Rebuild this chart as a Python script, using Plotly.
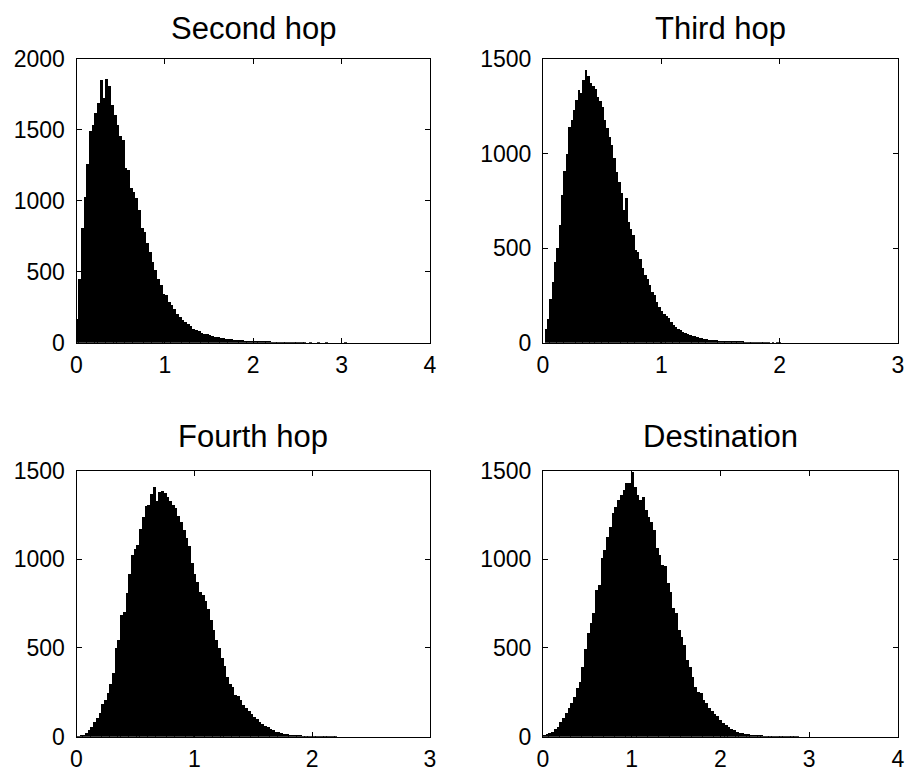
import plotly.graph_objects as go

# ---------------- data (bar heights) ----------------
second_width = 0.0307
second_counts = [
    170, 452, 810, 1030, 1260, 1494, 1536, 1618, 1690, 1854,
    1725, 1861, 1807, 1677, 1607, 1536, 1454, 1430, 1230, 1218,
    1088, 1065, 1018, 935, 806, 782, 700, 641, 570, 511,
    452, 405, 346, 335, 287, 264, 240, 205, 181, 158,
    146, 134, 118, 99, 87, 80, 71, 64, 61, 52,
    47, 40, 38, 33, 30, 28, 26, 24, 22, 20,
    18, 16, 14, 13, 12, 10, 9, 8, 7, 6,
    5, 5, 4, 4, 3, 3, 2, 2, 2, 1,
    1, 1, 1, 1, 1, 0, 1, 0, 0, 1,
    0, 0, 1, 0, 0, 0, 0, 0, 0, 1,
]
second_start = 0.0  # centre of first bin

third_width = 0.02
third_counts = [
    71, 124, 230, 320, 425, 500, 620, 780, 910, 1000,
    1140, 1180, 1230, 1285, 1335, 1320, 1390, 1443, 1410, 1375,
    1355, 1340, 1300, 1280, 1245, 1180, 1135, 1090, 1045, 975,
    900, 850, 790, 700, 765, 640, 600, 570, 490, 480,
    440, 395, 360, 335, 305, 270, 250, 215, 190, 165,
    152, 140, 128, 110, 95, 85, 75, 66, 58, 50,
    44, 40, 37, 34, 30, 26, 23, 20, 18, 16,
    15, 13, 12, 11, 10, 9, 8, 8, 7, 6,
    5, 5, 4, 4, 3, 3, 3, 2, 2, 2,
    1, 2, 1, 1, 1, 0, 1, 0, 1, 1,
]
third_start = 0.024

fourth_width = 0.023
fourth_counts = [
    8, 11, 15, 26, 41, 60, 83, 107, 139, 188,
    210, 251, 300, 360, 500, 550, 690, 705, 810, 920,
    1025, 1060, 1085, 1175, 1240, 1300, 1310, 1370, 1408, 1330,
    1380, 1385, 1375, 1355, 1330, 1310, 1290, 1245, 1215, 1170,
    1120, 1075, 980, 920, 875, 820, 800, 765, 725, 660,
    605, 550, 500, 445, 400, 340, 300, 285, 240, 230,
    210, 180, 165, 145, 130, 115, 105, 88, 75, 64,
    56, 49, 41, 32, 28, 23, 19, 17, 15, 13,
    12, 11, 10, 9, 8, 7, 6, 5, 5, 4,
    4, 3, 3, 2, 2, 2, 1, 1, 1, 1,
]
fourth_start = 0.0115

dest_width = 0.031
dest_counts = [
    13, 17, 22, 32, 45, 60, 88, 107, 135, 163,
    195, 229, 276, 313, 398, 495, 586, 642, 698, 829,
    858, 1008, 1055, 1130, 1186, 1261, 1299, 1336, 1365, 1393,
    1430, 1434, 1496, 1411, 1365, 1336, 1351, 1280, 1243, 1214,
    1167, 1064, 1027, 970, 965, 867, 820, 726, 698, 604,
    567, 520, 435, 398, 342, 285, 257, 248, 210, 191,
    163, 145, 131, 120, 98, 79, 69, 60, 47, 41,
    32, 26, 22, 19, 17, 15, 13, 12, 11, 10,
    9, 8, 7, 6, 6, 5, 4, 4, 3, 3,
    2, 2, 2, 1, 1, 1, 1, 0, 1, 1,
]
dest_start = 0.0155

titles = ["Second hop", "Third hop", "Fourth hop", "Destination"]
x_maxes = [4, 3, 3, 4]
y_maxes = [2000, 1500, 1500, 1500]
x_ticks = [[0, 1, 2, 3, 4], [0, 1, 2, 3], [0, 1, 2, 3], [0, 1, 2, 3, 4]]
y_ticks = [[0, 500, 1000, 1500, 2000], [0, 500, 1000, 1500],
           [0, 500, 1000, 1500], [0, 500, 1000, 1500]]

panels = [
    (second_counts, second_start, second_width),
    (third_counts, third_start, third_width),
    (fourth_counts, fourth_start, fourth_width),
    (dest_counts, dest_start, dest_width),
]

# ---------------- layout geometry ----------------
W, H = 909, 778
col_px = [(76.5, 430.0), (543.0, 898.0)]
row_px = [(59.0, 342.7), (470.5, 736.7)]
title_centre_px = [28.0, 437.0]

FONT = "Liberation Sans, Arial, Helvetica, sans-serif"

fig = go.Figure()
layout = dict(
    template="none",
    width=W, height=H, autosize=False,
    margin=dict(l=0, r=0, t=0, b=0, pad=0, autoexpand=False),
    paper_bgcolor="white", plot_bgcolor="white",
    showlegend=False, bargap=0,
    font=dict(family=FONT, size=23, color="black"),
    annotations=[],
)

for i, (counts, start, width) in enumerate(panels):
    r, c = divmod(i, 2)
    xa = "x" if i == 0 else f"x{i+1}"
    ya = "y" if i == 0 else f"y{i+1}"
    centers = [start + width * k for k in range(len(counts))]
    fig.add_trace(go.Bar(
        x=centers, y=counts, width=width * 1.12,
        marker=dict(color="black", line=dict(width=0)),
        xaxis=xa, yaxis=ya, hoverinfo="skip",
    ))
    x0, x1 = col_px[c]
    y0, y1 = row_px[r]
    xdom = [x0 / W, x1 / W]
    ydom = [(H - y1) / H, (H - y0) / H]
    axkey_x = "xaxis" if i == 0 else f"xaxis{i+1}"
    axkey_y = "yaxis" if i == 0 else f"yaxis{i+1}"
    common = dict(showline=True, linecolor="black", linewidth=1, mirror="ticks",
                  ticks="inside", ticklen=5, tickwidth=1, tickcolor="black",
                  showgrid=False, zeroline=False, layer="above traces",
                  automargin=False,
                  tickfont=dict(family=FONT, size=23, color="black"))
    layout[axkey_x] = dict(domain=xdom, range=[0, x_maxes[i]], tickvals=x_ticks[i],
                           anchor=ya, ticklabelstandoff=2, **common)
    layout[axkey_y] = dict(domain=ydom, range=[0, y_maxes[i]], tickvals=y_ticks[i],
                           anchor=xa, ticklabelstandoff=6, **common)
    layout["annotations"].append(dict(
        text=titles[i], x=(xdom[0] + xdom[1]) / 2,
        y=(H - title_centre_px[r]) / H,
        xref="paper", yref="paper", xanchor="center", yanchor="middle",
        showarrow=False,
        font=dict(family=FONT, size=31, color="black"),
    ))

fig.update_layout(**layout)
fig.write_html(
    "out.html",
    post_script="document.body.style.margin='0';document.body.style.overflow='hidden';",
)
